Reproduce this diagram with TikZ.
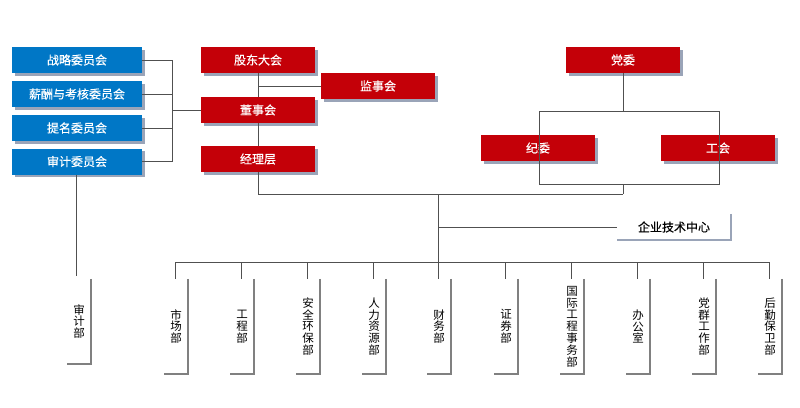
\documentclass[tikz,border=0pt]{standalone}
\usepackage{fontspec}
\setmainfont{Noto Sans CJK SC}
\newfontfamily\boxfont[FakeBold=0.5]{Noto Sans CJK SC}
\usetikzlibrary{shadows}
\definecolor{boxblue}{HTML}{0077C6}
\definecolor{boxred}{HTML}{C40008}
\definecolor{shade}{HTML}{9AA4B8}
\definecolor{conn}{HTML}{505050}
\definecolor{deptl}{HTML}{808080}
\tikzset{
  topbox/.style={inner sep=0pt, minimum height=26pt, text=white, font=\boxfont\fontsize{12}{14}\selectfont,
    drop shadow={shadow xshift=2.5pt, shadow yshift=-2.5pt, fill=shade, opacity=1}},
  bluebox/.style={topbox, fill=boxblue, minimum width=130pt},
  redbox/.style={topbox, fill=boxred, minimum width=114pt},
  link/.style={draw=conn, line width=0.9pt},
  deptbox/.style={inner sep=0pt, minimum width=24pt, minimum height=95pt, align=center,
    font=\fontsize{11.5}{11.8}\selectfont},
  deptedge/.style={draw=deptl, line width=1.6pt},
  techedge/.style={draw=shade, line width=1.6pt},
}
\begin{document}
\begin{tikzpicture}[x=1pt,y=-1pt]
\useasboundingbox (0,0) rectangle (800,407);
% blue committees
\node[bluebox] (c1) at (77,60) {战略委员会};
\node[bluebox] (c2) at (77,94) {薪酬与考核委员会};
\node[bluebox] (c3) at (77,128) {提名委员会};
\node[bluebox] (c4) at (77,161.5) {审计委员会};
% red boxes
\node[redbox] (gd) at (258,60) {股东大会};
\node[redbox] (js) at (378,86) {监事会};
\node[redbox] (ds) at (258,110) {董事会};
\node[redbox] (jl) at (258,159) {经理层};
\node[redbox] (dw) at (623,60) {党委};
\node[redbox] (jw) at (538,148) {纪委};
\node[redbox] (gh) at (718,148) {工会};
% tech centre
\node[inner sep=0pt, minimum width=114pt, minimum height=26pt, font=\boxfont\fontsize{12}{14}\selectfont] (tc) at (674,227) {企业技术中心};
\draw[techedge] (tc.north east) -- (tc.south east) -- (tc.south west);
% committee bracket
\coordinate (bx1) at (172,60);
\coordinate (bx4) at (172,161.5);
\coordinate (bxm) at (172,110);
\draw[link] (c1.east) -- (bx1) -- (bx4) -- (c4.east);
\draw[link] (c2.east) -- (c2.east -| bx1);
\draw[link] (c3.east) -- (c3.east -| bx1);
\draw[link] (bxm) -- (ds.west);
% governance chain
\draw[link] (gd.south) -- (ds.north);
\coordinate (jsj) at (258,86);
\draw[link] (jsj) -- (js.west);
\draw[link] (ds.south) -- (jl.north);
% party structure
\coordinate (pl) at (539,111);
\coordinate (pr) at (719,111);
\coordinate (plb) at (539,184);
\coordinate (prb) at (719,184);
\coordinate (pm) at (623,111);
\coordinate (pmb) at (623,184);
\coordinate (pmj) at (623,194);
\draw[link] (dw.south) -- (pm);
\draw[link] (pl) -- (pr);
\draw[link] (pl) -- (plb) -- (prb) -- (pr);
\draw[link] (pmb) -- (pmj);
% main trunk
\coordinate (jlj) at (258,194);
\coordinate (tk) at (438,194);
\coordinate (bus) at (438,262);
\draw[link] (jl.south) -- (jlj) -- (pmj);
\draw[link] (tk) -- (bus);
\draw[link] (tc.west -| tk) -- (tc.west);
% audit dept
\node[deptbox, minimum height=85pt] (sj) at (79,321.5) {审\\计\\部};
\draw[deptedge] (sj.north east) -- (sj.south east) -- (sj.south west);
\coordinate (sjt) at (76,276);
\draw[link] (c4.south -| sjt) -- (sjt);
% departments
\foreach \x/\nm/\txt in {
  175/d1/{市\\场\\部},
  241/d2/{工\\程\\部},
  307/d3/{安\\全\\环\\保\\部},
  373/d4/{人\\力\\资\\源\\部},
  438/d5/{财\\务\\部},
  505/d6/{证\\券\\部},
  571/d7/{国\\际\\工\\程\\事\\务\\部},
  637/d8/{办\\公\\室},
  703/d9/{党\\群\\工\\作\\部},
  769/d10/{后\\勤\\保\\卫\\部}} {
  \node[deptbox] (\nm) at (\x+1,326.5) {\txt};
  \draw[deptedge] (\nm.north east) -- (\nm.south east) -- (\nm.south west);
  \coordinate (\nm b) at (\x,262);
  \coordinate (\nm t) at (\x,279);
  \draw[link] (\nm b) -- (\nm t);
}
\draw[link] (d1b) -- (d10b);
\end{tikzpicture}
\end{document}
